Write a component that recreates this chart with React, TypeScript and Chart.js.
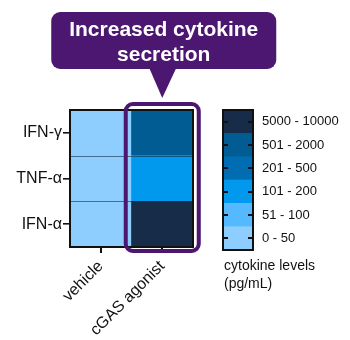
import React, { useEffect, useRef } from 'react';
import { Chart, registerables } from 'chart.js';

Chart.register(...registerables);

const CONDITIONS = ['vehicle', 'cGAS agonist'];
const CYTOKINES = ['IFN-γ', 'TNF-α', 'IFN-α']; // top to bottom
const LEVEL_VEHICLE = [0, 0, 0];
const LEVEL_AGONIST = [4, 2, 5];
const LEVEL_LABELS = ['0 - 50', '51 - 100', '101 - 200', '201 - 500', '501 - 2000', '5000 - 10000'];
const LEVEL_COLORS = ['#8dceff', '#55b9ff', '#0099ee', '#006db2', '#005c93', '#172c49'];
const CALLOUT_LINES = ['Increased cytokine', 'secretion'];
const LEGEND_TITLE = ['cytokine levels', '(pg/mL)'];
const HIGHLIGHT_INDEX = 1;

const PURPLE = '#4b1771';
const INK = '#111111';
const FONT = "'Liberation Sans', Arial, sans-serif";

function roundRectPath(ctx: CanvasRenderingContext2D, x: number, y: number, w: number, h: number, r: number) {
  ctx.beginPath();
  ctx.moveTo(x + r, y);
  ctx.lineTo(x + w - r, y);
  ctx.arcTo(x + w, y, x + w, y + r, r);
  ctx.lineTo(x + w, y + h - r);
  ctx.arcTo(x + w, y + h, x + w - r, y + h, r);
  ctx.lineTo(x + r, y + h);
  ctx.arcTo(x, y + h, x, y + h - r, r);
  ctx.lineTo(x, y + r);
  ctx.arcTo(x, y, x + r, y, r);
  ctx.closePath();
}

const heatDecor = {
  id: 'heatDecor',
  afterDraw(chart: any) {
    const { ctx, chartArea: a, scales } = chart;
    const ys = scales.y;
    const xs = scales.x;
    ctx.save();
    // row separators
    ctx.strokeStyle = 'rgba(25,45,65,0.6)';
    ctx.lineWidth = 1;
    for (let v = 1; v < CYTOKINES.length; v++) {
      const py = Math.round(ys.getPixelForValue(v)) + 0.5;
      ctx.beginPath();
      ctx.moveTo(a.left, py);
      ctx.lineTo(a.right, py);
      ctx.stroke();
    }
    // outer border
    ctx.strokeStyle = INK;
    ctx.lineWidth = 2;
    ctx.strokeRect(a.left, a.top, a.right - a.left, a.bottom - a.top);

    // highlight box
    const cx = xs.getPixelForValue(HIGHLIGHT_INDEX);
    const half = 36.5;
    ctx.strokeStyle = PURPLE;
    ctx.lineWidth = 4;
    roundRectPath(ctx, cx - half, a.top - 6, half * 2, a.bottom - a.top + 10, 7);
    ctx.stroke();

    // callout
    const bx = cx - 111;
    const bw = 225;
    const by = 12;
    const bh = 57;
    ctx.fillStyle = PURPLE;
    roundRectPath(ctx, bx, by, bw, bh, 9);
    ctx.fill();
    ctx.beginPath();
    ctx.moveTo(cx - 13, by + bh - 1);
    ctx.lineTo(cx + 14, by + bh - 1);
    ctx.lineTo(cx, a.top - 12);
    ctx.closePath();
    ctx.fill();

    ctx.fillStyle = '#ffffff';
    ctx.font = `bold 21px ${FONT}`;
    ctx.textAlign = 'center';
    ctx.textBaseline = 'alphabetic';
    ctx.fillText(CALLOUT_LINES[0], bx + bw / 2, by + 24);
    ctx.fillText(CALLOUT_LINES[1], bx + bw / 2, by + 49);
    ctx.restore();
  },
};

const legendDecor = {
  id: 'legendDecor',
  afterDraw(chart: any) {
    const { ctx, chartArea: a, scales } = chart;
    const yl = scales.yLab;
    ctx.save();
    ctx.strokeStyle = INK;
    ctx.lineWidth = 2;
    for (let i = 0; i < LEVEL_LABELS.length; i++) {
      const py = Math.round(yl.getPixelForTick(i));
      ctx.beginPath();
      ctx.moveTo(a.left, py);
      ctx.lineTo(a.left + 5, py);
      ctx.moveTo(a.right - 5, py);
      ctx.lineTo(a.right, py);
      ctx.stroke();
    }
    ctx.strokeRect(a.left, a.top, a.right - a.left, a.bottom - a.top);

    ctx.fillStyle = INK;
    ctx.font = `14px ${FONT}`;
    ctx.textAlign = 'left';
    ctx.textBaseline = 'middle';
    LEGEND_TITLE.forEach((t, i) => ctx.fillText(t, a.left + 1, a.bottom + 16 + i * 18));
    ctx.restore();
  },
};

export default function App() {
  const heatRef = useRef<HTMLCanvasElement>(null);
  const legRef = useRef<HTMLCanvasElement>(null);

  useEffect(() => {
    const datasets = CYTOKINES.map((name, r) => ({
      label: name,
      data: CONDITIONS.map(() => 1),
      backgroundColor: [LEVEL_COLORS[LEVEL_VEHICLE[r]], LEVEL_COLORS[LEVEL_AGONIST[r]]],
      borderWidth: 0,
      barPercentage: 1,
      categoryPercentage: 1,
      yAxisID: 'y',
    })).reverse();

    const heat = new Chart(heatRef.current!, {
      type: 'bar',
      data: { labels: CONDITIONS, datasets },
      options: {
        responsive: false,
        animation: false,
        layout: { padding: { top: 110, right: 157, left: 0, bottom: 0 } },
        plugins: { legend: { display: false }, tooltip: { enabled: false } },
        scales: {
          x: {
            stacked: true,
            offset: true,
            grid: { display: true, drawOnChartArea: false, offset: false, tickLength: 6, color: INK, lineWidth: 2 },
            border: { display: false },
            ticks: { minRotation: 45, maxRotation: 45, color: INK, font: { size: 16, family: FONT }, padding: 4 },
            afterFit: (s: any) => { s.height = 93; },
          },
          y: { type: 'linear', stacked: true, min: 0, max: CYTOKINES.length, display: false },
          yCat: {
            type: 'category',
            labels: CYTOKINES,
            position: 'left',
            offset: true,
            grid: { display: true, drawOnChartArea: false, offset: false, tickLength: 7, color: INK, lineWidth: 1.6 },
            border: { display: false },
            ticks: { color: INK, font: { size: 16, family: FONT }, padding: 1 },
            afterFit: (s: any) => { s.width = 70; },
          },
        },
      } as any,
      plugins: [heatDecor],
    });

    const legend = new Chart(legRef.current!, {
      type: 'bar',
      data: {
        labels: [''],
        datasets: LEVEL_LABELS.map((l, i) => ({
          label: l,
          data: [1],
          backgroundColor: LEVEL_COLORS[i],
          borderWidth: 0,
          barPercentage: 1,
          categoryPercentage: 1,
          yAxisID: 'y',
        })),
      },
      options: {
        responsive: false,
        animation: false,
        layout: { padding: { top: 110, left: 223, right: 0, bottom: 90 } },
        plugins: { legend: { display: false }, tooltip: { enabled: false } },
        scales: {
          x: { stacked: true, display: false },
          y: { type: 'linear', stacked: true, min: 0, max: LEVEL_LABELS.length, display: false },
          yLab: {
            type: 'category',
            position: 'right',
            labels: [...LEVEL_LABELS].reverse(),
            offset: true,
            grid: { display: false, drawTicks: false },
            border: { display: false },
            ticks: { color: INK, font: { size: 13, family: FONT }, padding: 9 },
            afterFit: (s: any) => { s.width = 97; },
          },
        },
      } as any,
      plugins: [legendDecor],
    });

    return () => {
      heat.destroy();
      legend.destroy();
    };
  }, []);

  return (
    <div style={{ position: 'absolute', left: 0, top: 0, width: 350, height: 340, background: '#fff' }}>
      <canvas ref={heatRef} width={350} height={340} style={{ position: 'absolute', left: 0, top: 0 }} />
      <canvas ref={legRef} width={350} height={340} style={{ position: 'absolute', left: 0, top: 0 }} />
    </div>
  );
}
